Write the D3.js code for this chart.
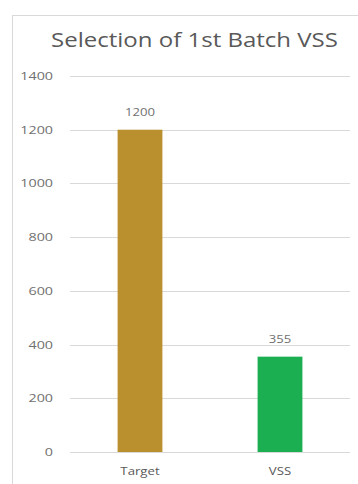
<!DOCTYPE html>
<html>
<head>
<meta charset="utf-8">
<script src="https://cdn.jsdelivr.net/npm/d3@7"></script>
<style>
  html, body { margin: 0; padding: 0; background: #ffffff; }
  svg { display: block; }
</style>
</head>
<body>
<svg id="chart" width="358" height="484"></svg>
<script>
// Chart data
const categories = ["Target", "VSS"];
const values = [1200, 355];
const barColors = ["#BA902E", "#1BAF52"];
const yTicks = [0, 200, 400, 600, 800, 1000, 1200, 1400];
const title = "Selection of 1st Batch VSS";

const svg = d3.select("#chart");
const W = 358, H = 484;
const margin = { top: 76, right: 8, bottom: 32, left: 70 };
const plotW = W - margin.left - margin.right;
const plotH = H - margin.top - margin.bottom;
const font = "'Open Sans', 'Liberation Sans', sans-serif";

// Widen glyphs horizontally by a factor (the labels are set in a wide face)
function stretch(sel, factor) {
  sel.each(function () {
    const w = this.getComputedTextLength();
    d3.select(this)
      .attr("textLength", w * factor)
      .attr("lengthAdjust", "spacingAndGlyphs");
  });
}

// Chart frame (runs off the right and bottom edges)
svg.append("rect")
  .attr("x", 12.5).attr("y", 15.5)
  .attr("width", 360).attr("height", 480)
  .attr("fill", "#ffffff")
  .attr("stroke", "#d9d9d9").attr("stroke-width", 1);

// Title
svg.append("text")
  .attr("x", 194.5).attr("y", 47)
  .attr("text-anchor", "middle")
  .attr("font-family", font)
  .attr("font-size", 20)
  .attr("fill", "#595959")
  .text(title)
  .call(stretch, 1.2);

const g = svg.append("g").attr("transform", `translate(${margin.left},${margin.top})`);

const x = d3.scaleBand().domain(categories).range([0, plotW]).paddingInner(0.68).paddingOuter(0.34);
const y = d3.scaleLinear().domain([0, 1400]).range([plotH, 0]);

// Horizontal gridlines
g.append("g")
  .selectAll("line")
  .data(yTicks)
  .join("line")
  .attr("x1", 0).attr("x2", plotW)
  .attr("y1", d => Math.round(y(d)) + 0.5)
  .attr("y2", d => Math.round(y(d)) + 0.5)
  .attr("stroke", "#d9d9d9").attr("stroke-width", 1);

// Y axis labels
const yAxis = d3.axisLeft(y).tickValues(yTicks).tickFormat(d3.format("d")).tickSize(0).tickPadding(17);
const ya = g.append("g").call(yAxis);
ya.select(".domain").remove();
ya.selectAll("text")
  .attr("font-family", font)
  .attr("font-size", 11)
  .attr("fill", "#707070")
  .call(stretch, 1.3);

// Bars
g.selectAll("rect.bar")
  .data(categories)
  .join("rect")
  .attr("class", "bar")
  .attr("x", d => x(d))
  .attr("width", x.bandwidth())
  .attr("y", (d, i) => y(values[i]))
  .attr("height", (d, i) => plotH - y(values[i]))
  .attr("fill", (d, i) => barColors[i]);

// Value labels
g.selectAll("text.val")
  .data(categories)
  .join("text")
  .attr("class", "val")
  .attr("x", d => x(d) + x.bandwidth() / 2)
  .attr("y", (d, i) => y(values[i]) - 14)
  .attr("text-anchor", "middle")
  .attr("font-family", font)
  .attr("font-size", 10.5)
  .attr("fill", "#707070")
  .text((d, i) => values[i])
  .call(stretch, 1.25);

// X axis labels
const xAxis = d3.axisBottom(x).tickSize(0).tickPadding(15);
const xa = g.append("g").attr("transform", `translate(0,${plotH})`).call(xAxis);
xa.select(".domain").remove();
xa.selectAll("text")
  .attr("font-family", font)
  .attr("font-size", 11)
  .attr("fill", "#595959")
  .call(stretch, 1.2);
</script>
</body>
</html>
